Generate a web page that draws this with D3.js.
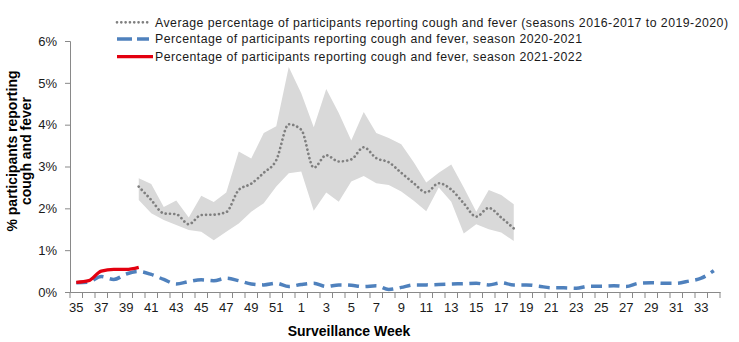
<!DOCTYPE html>
<html>
<head>
<meta charset="utf-8">
<script src="https://cdn.jsdelivr.net/npm/d3@7/dist/d3.min.js"></script>
<style>
  html, body { margin: 0; padding: 0; background: #fff; }
  svg { display: block; font-family: "Liberation Sans", Arial, sans-serif; }
</style>
</head>
<body>
<svg id="chart" width="739" height="342"></svg>
<script>
// Surveillance weeks of a season (week 35 to week 34 of the following year)
const weeks = [35,36,37,38,39,40,41,42,43,44,45,46,47,48,49,50,51,52,
               1,2,3,4,5,6,7,8,9,10,11,12,13,14,15,16,17,18,19,20,21,22,23,24,25,26,27,28,29,30,31,32,33,34];
const xTickLabels = [35,37,39,41,43,45,47,49,51,1,3,5,7,9,11,13,15,17,19,21,23,25,27,29,31,33];
const yTicks = [0, 1, 2, 3, 4, 5, 6];

// Weeks covered by the historical seasons (week 40 to week 18)
const histWeeks = [40,41,42,43,44,45,46,47,48,49,50,51,52,1,2,3,4,5,6,7,8,9,10,11,12,13,14,15,16,17,18];
// Average of seasons 2016-2017 to 2019-2020 (%)
const histMean  = [2.52,2.20,1.88,1.86,1.62,1.84,1.85,1.91,2.44,2.59,2.85,3.15,4.01,3.88,2.97,3.27,3.12,3.17,3.46,3.20,3.10,2.85,2.60,2.38,2.60,2.45,2.12,1.80,2.01,1.78,1.52];
// Range (min / max) over the same seasons (%)
const histMax   = [2.72,2.58,2.03,2.19,1.78,2.30,2.15,2.38,3.36,3.19,3.80,3.96,5.38,4.75,3.94,4.85,4.28,3.62,4.30,3.80,3.68,3.53,3.10,2.62,2.85,3.05,2.50,1.92,2.44,2.32,2.10];
const histMin   = [2.20,1.88,1.72,1.60,1.48,1.44,1.24,1.44,1.64,1.92,2.12,2.52,2.84,2.88,1.94,2.38,2.16,2.64,2.77,2.60,2.56,2.40,2.18,1.93,2.50,2.16,1.40,1.62,1.50,1.42,1.22];

// Season 2020-2021 (%), one value per week in `weeks`
const season2021 = [0.22,0.24,0.37,0.30,0.43,0.49,0.42,0.30,0.19,0.25,0.29,0.27,0.33,0.27,0.19,0.17,0.21,0.13,
                    0.18,0.21,0.13,0.17,0.16,0.13,0.15,0.06,0.11,0.17,0.17,0.18,0.19,0.20,0.21,0.17,0.22,0.17,
                    0.17,0.14,0.10,0.10,0.09,0.14,0.14,0.15,0.13,0.21,0.22,0.21,0.21,0.26,0.33,0.51];
// Season 2021-2022 (%), weeks reported so far
const weeks2122  = [35,36,37,38,39,40];
const season2122 = [0.23,0.27,0.50,0.54,0.54,0.59];

const legendLabels = [
  "Average percentage of participants reporting cough and fever (seasons 2016-2017 to 2019-2020)",
  "Percentage of participants reporting cough and fever, season 2020-2021",
  "Percentage of participants reporting cough and fever, season 2021-2022"
];

const svg = d3.select("#chart");
const plot = { left: 70, right: 720, top: 41, bottom: 292 };
const axisColor = "#898989";

const x = d3.scaleBand().domain(weeks).range([plot.left, plot.right]).padding(0);
const cx = w => x(w) + x.bandwidth() / 2;
const y = d3.scaleLinear().domain([0, 6]).range([plot.bottom, plot.top]);

// Historical min-max band
const band = histWeeks.map((w, i) => ({ w, lo: histMin[i], hi: histMax[i] }));
svg.append("path")
  .datum(band)
  .attr("fill", "#d9d9d9")
  .attr("d", d3.area().x(d => cx(d.w)).y0(d => y(d.lo)).y1(d => y(d.hi)));

const line = d3.line().x(d => cx(d.w)).y(d => y(d.v)).curve(d3.curveMonotoneX);

// Historical average, dotted
svg.append("path")
  .datum(histWeeks.map((w, i) => ({ w, v: histMean[i] })))
  .attr("fill", "none")
  .attr("stroke", "#7f7f7f")
  .attr("stroke-width", 2.7)
  .attr("stroke-linecap", "round")
  .attr("stroke-dasharray", "0.01,4.3")
  .attr("d", line);

// Season 2020-2021, dashed
svg.append("path")
  .datum(weeks.map((w, i) => ({ w, v: season2021[i] })))
  .attr("fill", "none")
  .attr("stroke", "#4f81bd")
  .attr("stroke-width", 3.5)
  .attr("stroke-dasharray", "11,6.5")
  .attr("d", line);

// Season 2021-2022, solid
svg.append("path")
  .datum(weeks2122.map((w, i) => ({ w, v: season2122[i] })))
  .attr("fill", "none")
  .attr("stroke", "#e3000f")
  .attr("stroke-width", 3.3)
  .attr("stroke-linejoin", "round")
  .attr("d", line);

// Y axis
const yAxis = d3.axisLeft(y).tickValues(yTicks).tickSize(5).tickPadding(8).tickFormat(d => d + "%");
const gy = svg.append("g").attr("transform", `translate(${plot.left},0)`).call(yAxis);
gy.select(".domain").attr("stroke", axisColor);
gy.selectAll(".tick line").attr("stroke", axisColor);
gy.selectAll(".tick text").attr("font-size", 13).attr("fill", "#1a1a1a")
  .attr("font-family", "'Liberation Sans', Arial, sans-serif");

// X axis: labels on every second week, tick marks between weeks
const xAxis = d3.axisBottom(x).tickValues(xTickLabels).tickSize(0).tickPadding(11);
const gx = svg.append("g").attr("transform", `translate(0,${plot.bottom})`).call(xAxis);
gx.select(".domain").attr("stroke", axisColor);
gx.selectAll(".tick text").attr("font-size", 13).attr("fill", "#1a1a1a")
  .attr("font-family", "'Liberation Sans', Arial, sans-serif");
gx.selectAll(".boundary")
  .data(weeks.map(w => x(w)).concat([plot.right]))
  .join("line")
  .attr("class", "boundary")
  .attr("x1", d => d).attr("x2", d => d)
  .attr("y1", 0).attr("y2", 6)
  .attr("stroke", axisColor);

// Axis titles
svg.append("text")
  .attr("x", 349).attr("y", 335.5)
  .attr("text-anchor", "middle")
  .attr("font-size", 14).attr("font-weight", "bold")
  .text("Surveillance Week");

const yTitle = svg.append("text")
  .attr("transform", "translate(0,151) rotate(-90)")
  .attr("text-anchor", "middle")
  .attr("font-size", 14).attr("font-weight", "bold");
yTitle.append("tspan").attr("x", 0).attr("y", 17).text("% participants reporting");
yTitle.append("tspan").attr("x", 0).attr("y", 31).text("cough and fever");

// Legend
const legend = svg.append("g");
const legendRows = [
  { y: 22.3, stroke: "#7f7f7f", width: 2.7, dash: "0.01,4.3", cap: "round", x2: 150 },
  { y: 39,   stroke: "#4f81bd", width: 3.5, dash: "15,5",     cap: "butt",  x2: 149 },
  { y: 56.6, stroke: "#e3000f", width: 3.3, dash: null,       cap: "butt",  x2: 153 }
];
const legendWidths = [573, 427, 427];
legendRows.forEach((r, i) => {
  legend.append("line")
    .attr("x1", 117).attr("x2", r.x2).attr("y1", r.y).attr("y2", r.y)
    .attr("stroke", r.stroke).attr("stroke-width", r.width)
    .attr("stroke-linecap", r.cap)
    .attr("stroke-dasharray", r.dash);
  legend.append("text")
    .attr("x", 155).attr("y", r.y + 4.2)
    .attr("font-size", 12.3).attr("fill", "#1a1a1a")
    .attr("textLength", legendWidths[i]).attr("lengthAdjust", "spacing")
    .text(legendLabels[i]);
});
</script>
</body>
</html>
